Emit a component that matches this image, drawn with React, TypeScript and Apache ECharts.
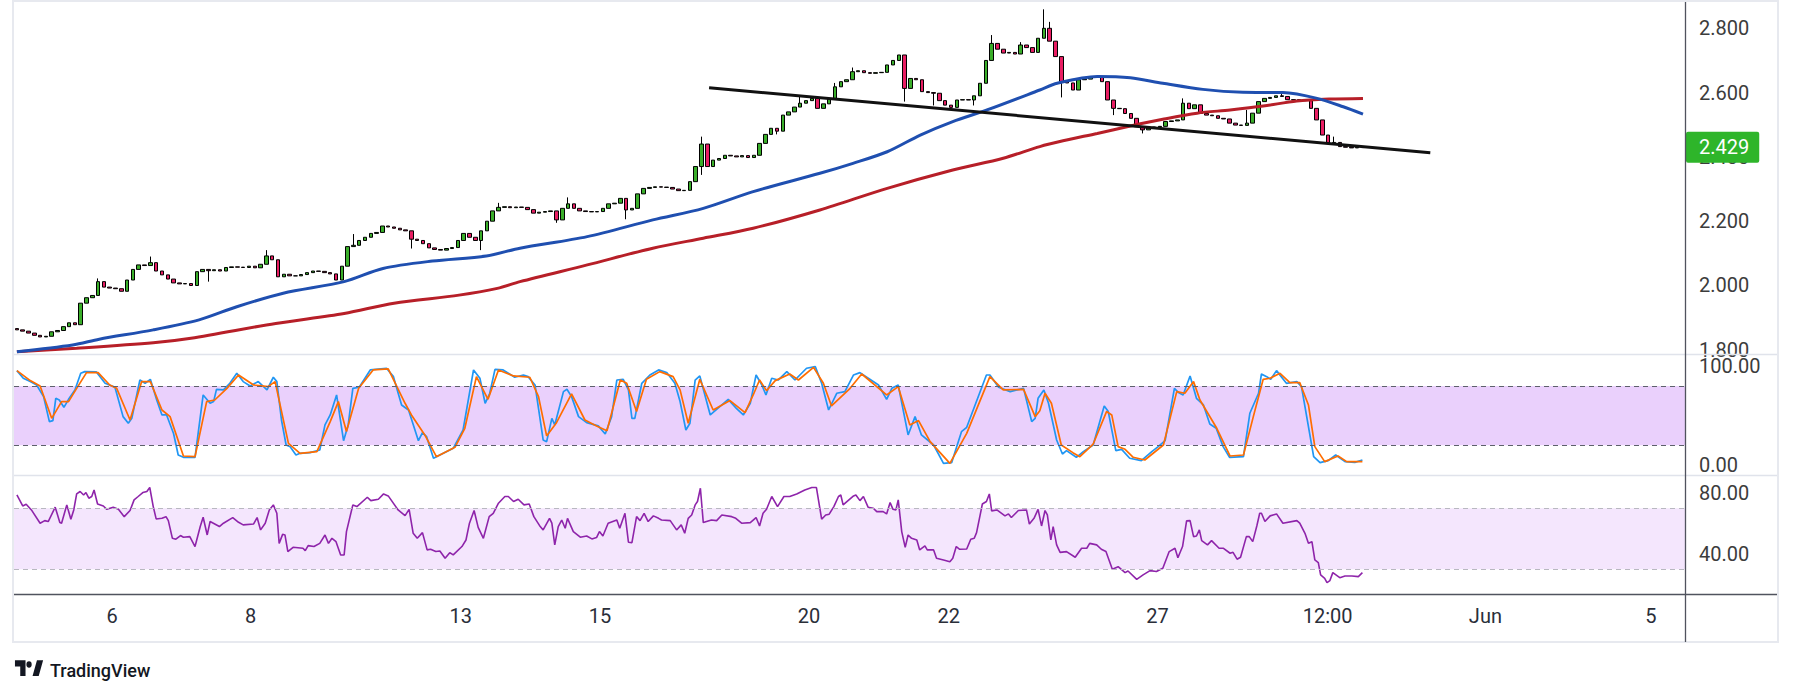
import React, { useEffect, useRef } from "react";
import * as echarts from "echarts";

const SLOTS = 288;

const xTickValues = [16.4, 40.3, 76.5, 100.5, 136.5, 160.6, 196.6, 225.9, 253.1, 281.6];
const xTickLabels = ["6", "8", "13", "15", "20", "22", "27", "12:00", "Jun", "5"];
const priceTicks = [1.8, 2.0, 2.2, 2.4, 2.6, 2.8];
const stochTicks = [0, 100];
const rsiTicks = [40, 80];

const firstOpen = 1.866;
const closes = [
  1.862, 1.858, 1.852, 1.845, 1.84, 1.842, 1.856, 1.86, 1.872, 1.884,
  1.878, 1.945, 1.962, 1.969, 2.012, 1.995, 1.992, 1.99, 1.982, 2.017,
  2.05, 2.064, 2.062, 2.071, 2.045, 2.033, 2.02, 2.008, 2.005, 2.006,
  2.0, 2.043, 2.05, 2.046, 2.049, 2.045, 2.056, 2.058, 2.057, 2.056,
  2.06, 2.055, 2.066, 2.092, 2.08, 2.027, 2.035, 2.03, 2.03, 2.034,
  2.04, 2.045, 2.044, 2.04, 2.036, 2.017, 2.06, 2.121, 2.125, 2.14,
  2.15, 2.162, 2.165, 2.185, 2.182, 2.178, 2.173, 2.17, 2.144, 2.14,
  2.13, 2.117, 2.112, 2.11, 2.115, 2.118, 2.14, 2.162, 2.15, 2.14,
  2.17, 2.2, 2.232, 2.243, 2.245, 2.242, 2.244, 2.243, 2.236, 2.225,
  2.228, 2.23, 2.232, 2.204, 2.24, 2.254, 2.24, 2.232, 2.23, 2.229,
  2.23, 2.24, 2.254, 2.256, 2.271, 2.235, 2.24, 2.285, 2.302, 2.305,
  2.307, 2.306, 2.305, 2.3, 2.295, 2.296, 2.323, 2.37, 2.44, 2.37,
  2.39, 2.395, 2.405, 2.403, 2.4, 2.404, 2.398, 2.405, 2.442, 2.47,
  2.489, 2.48, 2.53, 2.54, 2.555, 2.567, 2.575, 2.582, 2.551, 2.565,
  2.58, 2.618, 2.634, 2.64, 2.665, 2.668, 2.662, 2.66, 2.662, 2.663,
  2.686, 2.7, 2.717, 2.613, 2.644, 2.64, 2.603, 2.6, 2.598, 2.575,
  2.561, 2.554, 2.577, 2.578, 2.577, 2.59, 2.629, 2.7, 2.753, 2.735,
  2.723, 2.725, 2.72, 2.748, 2.74, 2.725, 2.769, 2.8, 2.76, 2.712,
  2.634, 2.63, 2.608, 2.64, 2.642, 2.648, 2.65, 2.634, 2.577, 2.551,
  2.55, 2.535, 2.52, 2.494, 2.484, 2.49, 2.493, 2.495, 2.51, 2.512,
  2.515, 2.567, 2.55, 2.562, 2.535, 2.53, 2.528, 2.52, 2.518, 2.505,
  2.499, 2.498, 2.505, 2.536, 2.572, 2.582, 2.585, 2.59, 2.588, 2.578,
  2.577, 2.578, 2.575, 2.551, 2.515, 2.468, 2.442, 2.445, 2.432, 2.43,
  2.428, 2.43, 2.429,
];

const highWicks: [number, number][] = [
  [14, 2.022], [23, 2.09], [43, 2.11], [58, 2.16], [83, 2.257], [95, 2.274],
  [118, 2.463], [135, 2.59], [141, 2.63], [144, 2.678], [168, 2.779], [173, 2.757],
  [177, 2.859], [178, 2.82], [201, 2.582], [212, 2.546], [218, 2.6], [227, 2.463],
];
const lowWicks: [number, number][] = [
  [33, 2.012], [68, 2.115], [80, 2.11], [93, 2.195], [105, 2.206], [107, 2.25],
  [118, 2.344], [131, 2.47], [153, 2.572], [158, 2.56], [165, 2.56], [180, 2.585],
  [189, 2.53], [194, 2.473],
];

const maBlue: [number, number][] = [
  [0, 1.794], [9.6, 1.815], [14.2, 1.833], [23.5, 1.862], [31.4, 1.893], [37.9, 1.934],
  [45.9, 1.976], [56.4, 2.012], [63.1, 2.053], [71.6, 2.076], [80.9, 2.092], [86.7, 2.116],
  [98.3, 2.152], [109.6, 2.204], [118.3, 2.24], [126.9, 2.292], [138.4, 2.349], [144.1, 2.38],
  [150, 2.416], [155.7, 2.468], [161.3, 2.51], [167.2, 2.546], [176.3, 2.608], [179.3, 2.629],
  [186.2, 2.65], [191.9, 2.646], [197.5, 2.629], [204.4, 2.61], [211.3, 2.601], [218.2, 2.6],
  [224.1, 2.582], [228.6, 2.556], [232, 2.533],
];
const maRed: [number, number][] = [
  [0, 1.794], [10.3, 1.805], [23.5, 1.822], [30, 1.836], [44.6, 1.882], [56.4, 1.913],
  [65, 1.945], [76.2, 1.97], [82.8, 1.991], [86.7, 2.012], [98.3, 2.064], [109.6, 2.116],
  [118.3, 2.147], [126.9, 2.178], [138.4, 2.235], [150, 2.302], [161.3, 2.359], [170, 2.396],
  [176.3, 2.432], [180.3, 2.45], [186.2, 2.473], [191.9, 2.496], [197.5, 2.517], [203.4, 2.536],
  [209.1, 2.546], [214.8, 2.558], [220.6, 2.574], [226.3, 2.58], [232, 2.582],
];
const trendLine: [number, number][] = [[119.3, 2.615], [243.6, 2.413]];

const stochK: [number, number][] = [
  [0, 95.5], [1.1, 87.8], [2.3, 84.4], [3.4, 81], [4.6, 69.2], [5.6, 44], [6.2, 45], [6.7, 67.5],
  [7.3, 65.8], [8.1, 58.4], [8.9, 66.5], [10, 76], [11, 92.8], [11.7, 94.5], [13.7, 94.2], [15.2, 82.7],
  [16.9, 78.7], [18.3, 49], [19.2, 42.3], [19.8, 47.3], [21.2, 86], [22.1, 82.7], [23, 86.7], [24.1, 65.8],
  [25, 50.7], [25.8, 50.7], [27, 32], [27.8, 10.2], [28.7, 7.9], [30.7, 7.9], [32.1, 70.9], [33.3, 62.5],
  [33.9, 64.2], [34.4, 76.6], [35.6, 76], [36.7, 82.7], [37.9, 92.8], [39, 84.4], [40.2, 80], [41.6, 84.4],
  [43.1, 76], [44.2, 88.8], [44.8, 84.4], [45.6, 45.6], [46.4, 20.3], [47.1, 18.6], [48.1, 10.2], [48.8, 11.9],
  [50.5, 12.6], [52.2, 15.3], [53.1, 40.6], [54, 50.7], [55.1, 70.9], [56.3, 24.7], [57.1, 40.6], [57.9, 77.6],
  [59, 78.7], [60.9, 96.2], [63.7, 97.9], [64.9, 89.4], [66.3, 60.8], [67.5, 55.7], [69.2, 24.7], [69.9, 32.8],
  [70.6, 28.8], [71.8, 6.9], [72.9, 10.2], [75.2, 17], [76.9, 35.5], [78.7, 96.2], [79.8, 87.8], [80.7, 62.5],
  [81.5, 72.6], [82.4, 96.8], [83.8, 96.2], [85.8, 88.8], [87.3, 91.1], [88.1, 89.4], [89.3, 81], [90.7, 25.4],
  [91.3, 23.7], [92.2, 47.3], [92.7, 40.6], [94.2, 74.3], [94.8, 76.6], [95.6, 69.2], [96.8, 49], [98.2, 42.9],
  [100.2, 39.6], [101.4, 31.5], [102.5, 49], [103.4, 86], [104.5, 86.7], [105.4, 76], [106, 47.3], [106.5, 47.3],
  [107.7, 82.7], [109.1, 91.1], [110.6, 96.2], [112, 93.5], [113.4, 82.7], [114.3, 64.2], [115.3, 35.5], [116, 42.3],
  [116.9, 86], [117.7, 90.1], [119.5, 50.7], [120.6, 56.4], [122.6, 66.5], [124, 57.4], [125.2, 50.7], [126.4, 62.5],
  [127.4, 91.1], [128.4, 81], [129.1, 70.9], [130.1, 87.8], [131.2, 86], [132.7, 94.5], [134.1, 86], [136.1, 97.9],
  [137.6, 99.5], [138.7, 82.7], [139.9, 55.7], [141.3, 72.6], [142.7, 74.3], [144.2, 91.1], [145.3, 93.5], [148.5, 81],
  [149.9, 66.5], [150.8, 77.6], [151.9, 81], [153.6, 30.5], [154.8, 49], [155.9, 30.5], [158, 20.3], [159.7, 1.8],
  [161.1, 2.5], [162.8, 33.8], [163.7, 38.2], [167.1, 91.1], [167.7, 91.1], [169.2, 78.7], [171.2, 74.3], [173.5, 77.6],
  [174.9, 44], [175.5, 47.3], [176, 67.5], [177, 76], [177.8, 62.5], [179.2, 25.4], [180.2, 11.2], [180.9, 14.6],
  [182.6, 7.9], [183.8, 13.6], [185.5, 20.3], [187.4, 59.8], [188.1, 54.1], [189.4, 14.6], [190.4, 15.9], [191.8, 6.9],
  [193.8, 4.5], [195.6, 13.6], [196.7, 18.7], [197.9, 24.7], [199.5, 77.6], [200.2, 73.3], [201, 70.9], [202.2, 90.1],
  [203.3, 67.5], [204.5, 60.8], [205.6, 41.6], [206.7, 37.2], [207.9, 18.7], [209, 7.9], [211.4, 8.5], [212.5, 52.4],
  [214, 72.6], [214.5, 92.1], [215.4, 89.4], [216.1, 86.7], [217.1, 95.5], [218.8, 82.7], [220.6, 84.4], [221.4, 79.3],
  [222.3, 49], [223.5, 8.5], [224.6, 2.5], [226, 4.5], [227.3, 10.2], [228.9, 3.5], [230.6, 2.8], [231.9, 5.2],
];
const stochD: [number, number][] = [
  [0, 95.5], [2.3, 85.4], [4, 80], [6, 47.3], [7.7, 64.2], [8.9, 64.2], [10.3, 77.6], [12, 93.5],
  [14, 93.5], [16, 81], [17.2, 77.6], [19.5, 45.6], [21.5, 84.4], [23, 84.4], [25, 55.7], [26.4, 49],
  [28.7, 9.2], [30.7, 8.5], [32.7, 64.2], [34.1, 65.8], [36.2, 77.6], [38.2, 91.1], [40.8, 81], [43.3, 79.3],
  [44.5, 84.4], [46.8, 22], [48.8, 11.9], [51.7, 13.6], [54, 44], [55.4, 64.2], [56.8, 33.9], [58.9, 77.6],
  [61.4, 96.2], [64, 97.2], [66.9, 62.5], [68, 50.7], [70.3, 30.5], [72.3, 8.5], [75.5, 18], [77.2, 37.2],
  [79.2, 89.4], [81.2, 66.5], [83, 96.2], [85.6, 90.1], [88.4, 88.8], [89.9, 69.2], [91.3, 29.5], [93, 42.9],
  [95.6, 71.9], [97.9, 45.6], [99.9, 39.6], [101.7, 34.8], [104, 86], [105.1, 82.7], [106.8, 54.1], [108.5, 86.7],
  [110.8, 94.5], [113.1, 89.4], [114.3, 76], [115.7, 42.3], [117.7, 86.7], [120, 55.7], [122.9, 65.2], [125.5, 53],
  [126.9, 70.9], [128, 86], [129.2, 75.3], [130.7, 85.4], [133.2, 92.1], [134.7, 86], [137.3, 98.8], [139, 82.7],
  [140.4, 59.8], [143.6, 77.6], [145.6, 92.1], [149.9, 70.9], [151.9, 79.3], [153.9, 40.6], [155.4, 45], [157.4, 23.7],
  [160.8, 1.8], [163.7, 32.1], [167.7, 89.4], [170, 76], [173.5, 76.6], [175.5, 49], [176.3, 55], [177.2, 72.6],
  [178.3, 62.5], [180, 20.3], [182, 12.6], [183.2, 8.5], [185.5, 21.3], [187.8, 54.1], [188.7, 50.7], [189.8, 18.7],
  [191, 16], [192.4, 7.9], [194.4, 5.2], [197.6, 20.3], [199.9, 74.3], [201.3, 72.6], [202.8, 84.4], [203.9, 65.8],
  [206.8, 37.2], [209.1, 9.2], [211.4, 10.2], [213.1, 49], [214.8, 86.7], [216, 87.8], [217.7, 92.8], [219.4, 83.4],
  [221.1, 83.4], [222.6, 60.8], [223.7, 18.7], [225.4, 3.5], [227.7, 9.2], [229.2, 3.5], [231.9, 3.5],
];
const rsi: [number, number][] = [
  [0, 78.7], [1, 71.5], [1.6, 72.6], [2.5, 68.9], [4, 60.2], [4.8, 61.9], [5.4, 61.3], [6.6, 70.7],
  [7.4, 60.6], [7.7, 60.2], [8.6, 72.2], [9.3, 62.8], [9.8, 68.9], [10.3, 79.4], [10.9, 81], [11.5, 78.7],
  [11.9, 80.3], [12.4, 76.6], [12.9, 77.7], [13.3, 82], [13.9, 72.8], [14.9, 71.5], [15.5, 69.3], [16.6, 70.7],
  [17.5, 69.3], [18.5, 64.5], [19.5, 68.5], [20.2, 75.5], [20.9, 77.7], [21.7, 80.3], [22.4, 81], [22.9, 83.6],
  [23.5, 71.1], [24, 63], [25, 63.4], [25.7, 64.5], [26.1, 61.9], [26.8, 50.3], [27.4, 49.7], [28.2, 52.1],
  [28.7, 51], [29.8, 51.4], [30.7, 44.9], [31.6, 58], [32.1, 64.1], [32.8, 52.5], [33.3, 61.3], [34.1, 59.7],
  [34.9, 58], [35.6, 60.2], [37.2, 63.9], [38.2, 60.8], [39, 59.1], [40.8, 59.7], [41.4, 63.9], [42, 55.8],
  [42.8, 60.2], [43.5, 68.9], [44.2, 72.2], [44.8, 66.7], [45.2, 47], [45.8, 52.9], [46.2, 52.5], [46.7, 41.6],
  [47.6, 44.4], [49.3, 43.8], [49.7, 42.2], [50.2, 45.5], [51.2, 44.9], [52.2, 47], [53.1, 52.5], [53.7, 47],
  [54.3, 50.3], [55, 48.1], [55.8, 39.4], [56.4, 39.4], [56.8, 54.7], [57.9, 72.2], [58.6, 71.1], [60.4, 77.2],
  [61, 75], [62.3, 75.9], [63.2, 79.4], [64, 78.1], [65.7, 68.9], [66.9, 65.2], [67.6, 69.3], [68.3, 53.6],
  [69, 50.3], [69.9, 54], [70.7, 42.7], [71.3, 43.1], [72.2, 41.6], [72.9, 42], [73.8, 37.2], [74.6, 40.9],
  [75.2, 39.4], [76.7, 44.9], [77.4, 49.2], [78, 60.2], [78.8, 68.5], [79.5, 57.5], [80.4, 50.3], [81.4, 64.5],
  [82.1, 66.7], [83, 73.3], [84.1, 77.7], [84.7, 77.7], [85.6, 74.4], [86.4, 75.9], [87.4, 72.2], [88.3, 72.8],
  [89.1, 64.5], [90.2, 58], [90.7, 55.8], [91.8, 63.4], [92.2, 60.2], [92.7, 46], [93.3, 58], [93.9, 62.3],
  [94.5, 56.9], [94.9, 63.4], [95.9, 54.7], [97.1, 51], [98.2, 51.8], [99.1, 49.9], [99.9, 50.8], [100.4, 54.7],
  [101, 51.8], [101.9, 60.2], [103.4, 62.3], [103.9, 56.9], [104.8, 66.7], [105.4, 47.7], [106, 47.5], [106.8, 64.5],
  [107.4, 61.9], [108.1, 66.7], [108.8, 61.3], [109.7, 65], [110.6, 63.4], [111.1, 62.3], [112.6, 61.9], [113.7, 55.8],
  [114.5, 59.1], [115.1, 53.6], [115.7, 63.4], [116.3, 65.6], [116.9, 72.2], [117.3, 74.4], [117.8, 83.1], [118.3, 60.6],
  [119.7, 62.3], [120.6, 61.9], [121.5, 65.6], [123.2, 64.5], [123.9, 63.4], [124.9, 60.2], [126.4, 60.6], [127.4, 63.9],
  [128, 58.4], [128.6, 66.7], [129.2, 69.3], [130.1, 77.7], [131.1, 71.1], [132.2, 77.7], [133.2, 77.7], [134.4, 79.4],
  [135.8, 82], [137, 83.6], [137.8, 83.6], [138.7, 62.8], [139.4, 65.6], [140, 66.1], [140.8, 71.1], [141.6, 77.7],
  [142, 78.7], [142.4, 72.2], [144.2, 78.1], [144.6, 78.7], [145.3, 75], [145.9, 77.7], [146.7, 70.7], [147.6, 70],
  [148.2, 67.8], [149.3, 67.8], [149.9, 66.3], [150.5, 73.7], [151, 69.3], [151.5, 68.9], [151.9, 75.5], [152.5, 54.7],
  [153.1, 44.4], [153.6, 52.5], [154.2, 50.3], [155.1, 49.2], [155.6, 42.7], [156.5, 45.3], [156.9, 42.7], [158, 42.7],
  [158.5, 37.2], [159.7, 36.1], [160.8, 35], [161.3, 37.2], [161.9, 44.9], [162.5, 43.1], [163.7, 43.3], [164.4, 49.7],
  [165, 50.3], [165.4, 54], [166.4, 72.8], [167.1, 74.4], [167.6, 79.4], [168, 68.3], [168.9, 68.9], [170.3, 65],
  [170.9, 66.3], [171.4, 63.9], [172.6, 68.5], [174, 68.9], [174.5, 59.7], [175.3, 63.4], [176, 69.3], [176.6, 58.4],
  [177.2, 68.5], [177.6, 65.6], [178.2, 49.2], [178.6, 58], [179.2, 46], [179.8, 41.1], [180.9, 41.6], [182.4, 37.9],
  [183.5, 43.8], [184.4, 43.8], [184.9, 47], [186.1, 46], [186.9, 43.1], [187.7, 41.6], [188.8, 30], [189.8, 31.7],
  [191, 27.8], [191.5, 28.9], [193, 23.4], [194.1, 26.3], [195.3, 29.1], [196.4, 28.5], [197.5, 30.7], [198.6, 41.6],
  [199.6, 43.8], [200.1, 37.6], [200.9, 44.9], [201.6, 61.7], [202.2, 61.9], [202.8, 51.4], [203.3, 51.8], [203.8, 55.8],
  [204.2, 48.8], [205.2, 46], [205.9, 48.8], [207.2, 43.8], [207.9, 43.8], [209.1, 40.5], [209.6, 41.1], [210.3, 36.6],
  [210.9, 37.9], [211.9, 51.4], [212.4, 51.4], [213, 48.1], [213.7, 58.4], [214.2, 66.7], [214.5, 66.7], [215.1, 61.3],
  [216, 65], [216.5, 65.6], [217.1, 66.3], [218.2, 60.2], [220.6, 61.9], [221.1, 60.2], [222, 53.6], [222.6, 47],
  [223.2, 48.1], [223.7, 36.1], [224.3, 34.4], [224.7, 26.3], [225.4, 24.1], [225.8, 21.3], [226.3, 22.6], [226.8, 27.8],
  [228, 24.5], [228.9, 25.6], [230.1, 25.6], [231.2, 25.2], [231.9, 27.8],
];

const FONT = "Roboto, 'Noto Sans', sans-serif";
const UP = "#3aae2a";
const DOWN = "#e91e63";

const TV_PATH = "M14 6H2v6h6v9h6V6zm8 15h7l5-15h-7l-5 15zm-1-11a3 3 0 1 1-6 0 3 3 0 0 1 6 0z";
let logoRegistered = false;

export default function App() {
  const ref = useRef<HTMLDivElement>(null);
  useEffect(() => {
    document.body.style.margin = "0";
    if (!logoRegistered) {
      echarts.graphic.registerShape("tvlogo", echarts.graphic.extendPath(TV_PATH, {}));
      logoRegistered = true;
    }
    const chart = echarts.init(ref.current!, undefined, { renderer: "svg" });

    const candleData = closes.map((c, i) => {
      const o = i === 0 ? firstOpen : closes[i - 1];
      let hi = Math.max(o, c);
      let lo = Math.min(o, c);
      const hw = highWicks.find((w) => w[0] === i);
      if (hw) hi = Math.max(hi, hw[1]);
      const lw = lowWicks.find((w) => w[0] === i);
      if (lw) lo = Math.min(lo, lw[1]);
      return [o, c, lo, hi];
    });
    const lastPrice = closes[closes.length - 1];
    const categories = Array.from({ length: SLOTS }, (_, i) => String(i));

    const gridL = 14;
    const gridW = 1671;
    const axisLabelStyle = { fontSize: 20, color: "#3c3c3c", fontFamily: FONT, margin: 14 };

    const option: any = {
      animation: false,
      backgroundColor: "#ffffff",
      textStyle: { fontFamily: FONT },
      grid: [
        { left: gridL, top: 2, width: gridW, height: 352 },
        { left: gridL, top: 354, width: gridW, height: 121.3 },
        { left: gridL, top: 475.3, width: gridW, height: 119 },
      ],
      xAxis: [
        { type: "category", gridIndex: 0, data: categories, boundaryGap: true, show: false },
        { type: "value", gridIndex: 0, min: -0.5, max: SLOTS - 0.5, show: false },
        { type: "value", gridIndex: 1, min: -0.5, max: SLOTS - 0.5, show: false },
        {
          type: "value", gridIndex: 2, min: -0.5, max: SLOTS - 0.5,
          axisLine: { show: false }, axisTick: { show: false }, splitLine: { show: false },
          axisLabel: {
            ...axisLabelStyle, color: "#2a2e39", margin: 12,
            customValues: xTickValues,
            formatter: (v: number) => {
              const i = xTickValues.findIndex((t) => Math.abs(t - v) < 1e-6);
              return i >= 0 ? xTickLabels[i] : "";
            },
          },
        },
      ],
      yAxis: [
        {
          type: "value", gridIndex: 0, position: "right", min: 1.7869, max: 2.8818,
          axisLine: { show: false }, axisTick: { show: false }, splitLine: { show: false },
          axisLabel: { ...axisLabelStyle, customValues: priceTicks, formatter: (v: number) => v.toFixed(3) },
        },
        {
          type: "value", gridIndex: 1, position: "right", min: -10.3, max: 112.3,
          axisLine: { show: false }, axisTick: { show: false }, splitLine: { show: false },
          axisLabel: { ...axisLabelStyle, customValues: stochTicks, formatter: (v: number) => v.toFixed(2) },
        },
        {
          type: "value", gridIndex: 2, position: "right", min: 13.6, max: 91.6,
          axisLine: { show: false }, axisTick: { show: false }, splitLine: { show: false },
          axisLabel: { ...axisLabelStyle, customValues: rsiTicks, formatter: (v: number) => v.toFixed(2) },
        },
      ],
      series: [
        {
          type: "candlestick", xAxisIndex: 0, yAxisIndex: 0, data: candleData, barWidth: 4,
          itemStyle: { color: UP, color0: DOWN, borderColor: "#000", borderColor0: "#000", borderWidth: 1 },
          markLine: {
            silent: true, symbol: ["none", "none"], animation: false,
            lineStyle: { color: "rgba(0,0,0,0)", width: 0 },
            label: {
              show: true, position: "end", distance: 1,
              formatter: () => lastPrice.toFixed(3),
              backgroundColor: "#2eb52a", color: "#ffffff", fontSize: 20, fontFamily: FONT,
              padding: [6, 10, 5, 13], borderRadius: 2,
            },
            emphasis: { disabled: true },
            data: [{ yAxis: lastPrice }],
          },
        },
        {
          type: "line", xAxisIndex: 1, yAxisIndex: 0, data: maRed, showSymbol: false, smooth: 0.3,
          lineStyle: { color: "#b71f28", width: 3 }, silent: true,
        },
        {
          type: "line", xAxisIndex: 1, yAxisIndex: 0, data: maBlue, showSymbol: false, smooth: 0.3,
          lineStyle: { color: "#1f4fb0", width: 3 }, silent: true,
        },
        {
          type: "line", xAxisIndex: 1, yAxisIndex: 0, data: trendLine, showSymbol: false,
          lineStyle: { color: "#111111", width: 3 }, silent: true,
        },
        {
          type: "line", xAxisIndex: 2, yAxisIndex: 1, data: stochK, showSymbol: false,
          lineStyle: { color: "#2196f3", width: 1.7 }, silent: true,
          markArea: {
            silent: true, itemStyle: { color: "#ead0fc" },
            data: [[{ yAxis: 20 }, { yAxis: 80 }]],
          },
          markLine: {
            silent: true, symbol: ["none", "none"], label: { show: false },
            lineStyle: { color: "#5d606b", type: [5, 4], width: 1.2 },
            data: [{ yAxis: 20 }, { yAxis: 80 }],
          },
        },
        {
          type: "line", xAxisIndex: 2, yAxisIndex: 1, data: stochD, showSymbol: false,
          lineStyle: { color: "#ff6d00", width: 1.7 }, silent: true,
        },
        {
          type: "line", xAxisIndex: 3, yAxisIndex: 2, data: rsi, showSymbol: false,
          lineStyle: { color: "#8e24aa", width: 1.6 }, silent: true,
          markArea: {
            silent: true, itemStyle: { color: "#f4e6fd" },
            data: [[{ yAxis: 30 }, { yAxis: 70 }]],
          },
          markLine: {
            silent: true, symbol: ["none", "none"], label: { show: false },
            lineStyle: { color: "#b8b8c0", type: [5, 4], width: 1.2 },
            data: [{ yAxis: 30 }, { yAxis: 70 }],
          },
        },
      ],
      graphic: [
        { type: "rect", silent: true, z: 50, shape: { x: 13, y: 1, width: 1765, height: 641 }, style: { fill: "none", stroke: "#e7e9ef", lineWidth: 2 } },
        { type: "line", silent: true, z: 50, shape: { x1: 14, y1: 354.5, x2: 1777, y2: 354.5 }, style: { stroke: "#e0e3eb", lineWidth: 1.5 } },
        { type: "line", silent: true, z: 50, shape: { x1: 14, y1: 475.5, x2: 1777, y2: 475.5 }, style: { stroke: "#e0e3eb", lineWidth: 1.5 } },
        { type: "line", silent: true, z: 50, shape: { x1: 1685.5, y1: 2, x2: 1685.5, y2: 642 }, style: { stroke: "#50535e", lineWidth: 1.3 } },
        { type: "line", silent: true, z: 50, shape: { x1: 14, y1: 594.5, x2: 1777, y2: 594.5 }, style: { stroke: "#50535e", lineWidth: 1.6 } },
        { type: "tvlogo", silent: true, z: 50, x: 13.2, y: 654, scaleX: 0.88, scaleY: 1.05, style: { fill: "#131722" } },
        { type: "text", silent: true, z: 50, x: 50, y: 670, style: { text: "TradingView", fontSize: 18, fontWeight: 500, fill: "#131722", fontFamily: FONT, verticalAlign: "middle" } },
      ],
    };
    chart.setOption(option);
    return () => chart.dispose();
  }, []);
  return <div ref={ref} style={{ width: 1793, height: 695 }} />;
}
